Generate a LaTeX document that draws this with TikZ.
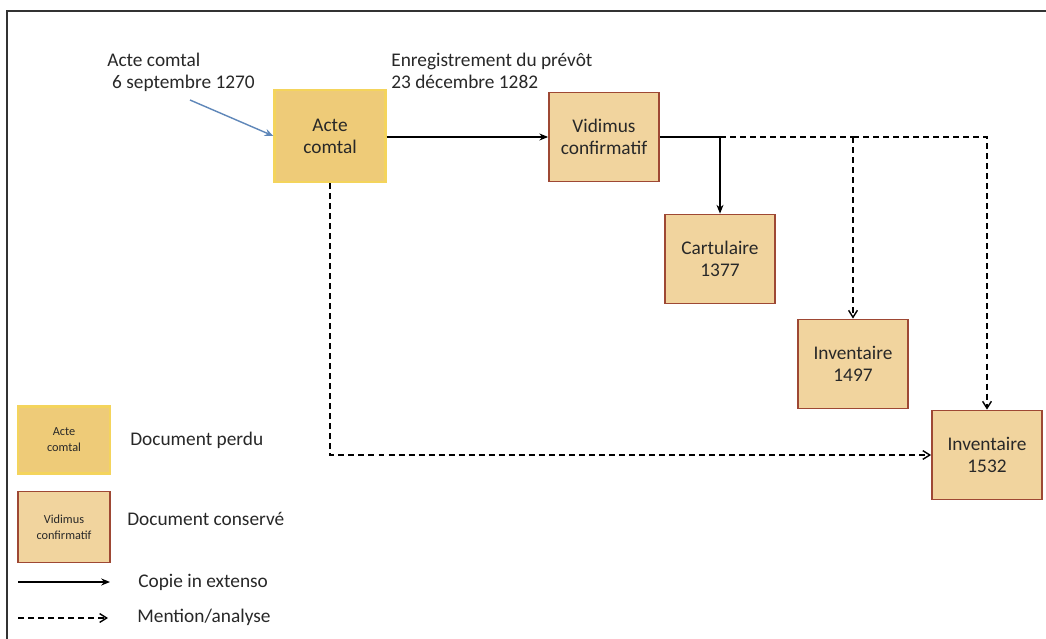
\documentclass[tikz,border=0pt]{standalone}
\usepackage{fontspec}
\setmainfont{Carlito}
\usepackage{xcolor}
\usetikzlibrary{arrows.meta, positioning, calc}
\definecolor{lostfill}{RGB}{238, 203, 120}
\definecolor{lostdraw}{RGB}{244, 212, 92}
\definecolor{keptfill}{RGB}{241, 212, 158}
\definecolor{keptdraw}{RGB}{158, 72, 52}
\definecolor{textcol}{RGB}{40, 40, 40}
\definecolor{bluearr}{RGB}{95, 135, 185}
\tikzset{
    font=\fontsize{11}{12.5}\selectfont,
    lost/.style={rectangle, draw=lostdraw, fill=lostfill, line width=1.2pt, align=center, text=textcol, minimum width=2.22cm, minimum height=1.84cm},
    kept/.style={rectangle, draw=keptdraw, fill=keptfill, line width=1pt, align=center, text=textcol, minimum width=2.2cm, minimum height=1.78cm},
    smallbox/.style={minimum width=1.84cm, minimum height=1.34cm, font=\fontsize{7}{9}\selectfont},
    copyarrow/.style={-{Stealth[length=5pt, width=4pt]}, line width=0.8pt, color=black},
    mentionarrow/.style={-{Straight Barb[length=4pt, width=5pt]}, line width=0.8pt, color=black, dash pattern=on 3.4pt off 2.3pt},
    plainline/.style={line width=0.8pt, color=black},
    dashline/.style={line width=0.8pt, color=black, dash pattern=on 3.4pt off 2.3pt},
    label_text/.style={align=left, text=textcol, inner sep=0pt}
}
\begin{document}
\begin{tikzpicture}[x=0.02cm, y=-0.02cm]

    \useasboundingbox (0,0) rectangle (1046,639);
    \fill[white] (0,0) rectangle (1046,639);
    % Frame
    \draw[line width=1.2pt, color=black!80] (7,660) -- (7,11) -- (1060,11);

    % Documents
    \node (acte)  [lost] at (330,136) {Acte\\comtal};
    \node (vid)   [kept] at (604,137) {Vidimus\\confirmatif};
    \node (cart)  [kept] at (720,259) {Cartulaire\\1377};
    \node (inva)  [kept] at (853,364) {Inventaire\\1497};
    \node (invb)  [kept] at (987,455) {Inventaire\\1532};

    % Dates
    \node (lblacte) [label_text, anchor=north west] at (107,53) {Acte comtal\\\hspace*{0.25em}6 septembre 1270};
    \node (lblvid)  [label_text, anchor=north west] at (391,53) {Enregistrement du prévôt\\23 décembre 1282};
    \coordinate (actesrc) at (190,100);

    % Paths: copies
    \draw [bluearr, line width=0.8pt, -{Stealth[length=5pt, width=4pt]}] (actesrc) -- (acte.west);
    \draw [copyarrow] (acte.east |- vid.west) -- (vid.west);
    \coordinate (splitA) at (720,137);
    \coordinate (splitB) at (853,137);
    \draw [plainline] (vid.east) -- (splitA);
    \draw [copyarrow] (splitA) -- (cart.north);

    % Paths: mentions
    \draw [dashline] (splitA) -- (splitB);
    \draw [mentionarrow] (splitB) -- (inva.north);
    \draw [mentionarrow] (splitB) -| (invb.north);
    \draw [mentionarrow] (acte.south) |- (invb.west);

    % Legend
    \node (keylost) [lost, smallbox] at (64,440) {Acte\\comtal};
    \node (keykept) [kept, smallbox, minimum height=1.42cm] at (64,527) {Vidimus\\confirmatif};
    \node (txtlost) [label_text, anchor=west] at (130,440) {Document perdu};
    \node (txtkept) [label_text, anchor=west] at (127,519) {Document conservé};
    \coordinate (copyA) at (18,582);
    \coordinate (copyB) at (110,582);
    \coordinate (mentA) at (18,618);
    \coordinate (mentB) at (108,618);
    \draw [copyarrow] (copyA) -- (copyB);
    \draw [mentionarrow] (mentA) -- (mentB);
    \node (txtcopy) [label_text, anchor=west] at (138,582) {Copie in extenso};
    \node (txtment) [label_text, anchor=west] at (137,617) {Mention/analyse};

\end{tikzpicture}
\end{document}
